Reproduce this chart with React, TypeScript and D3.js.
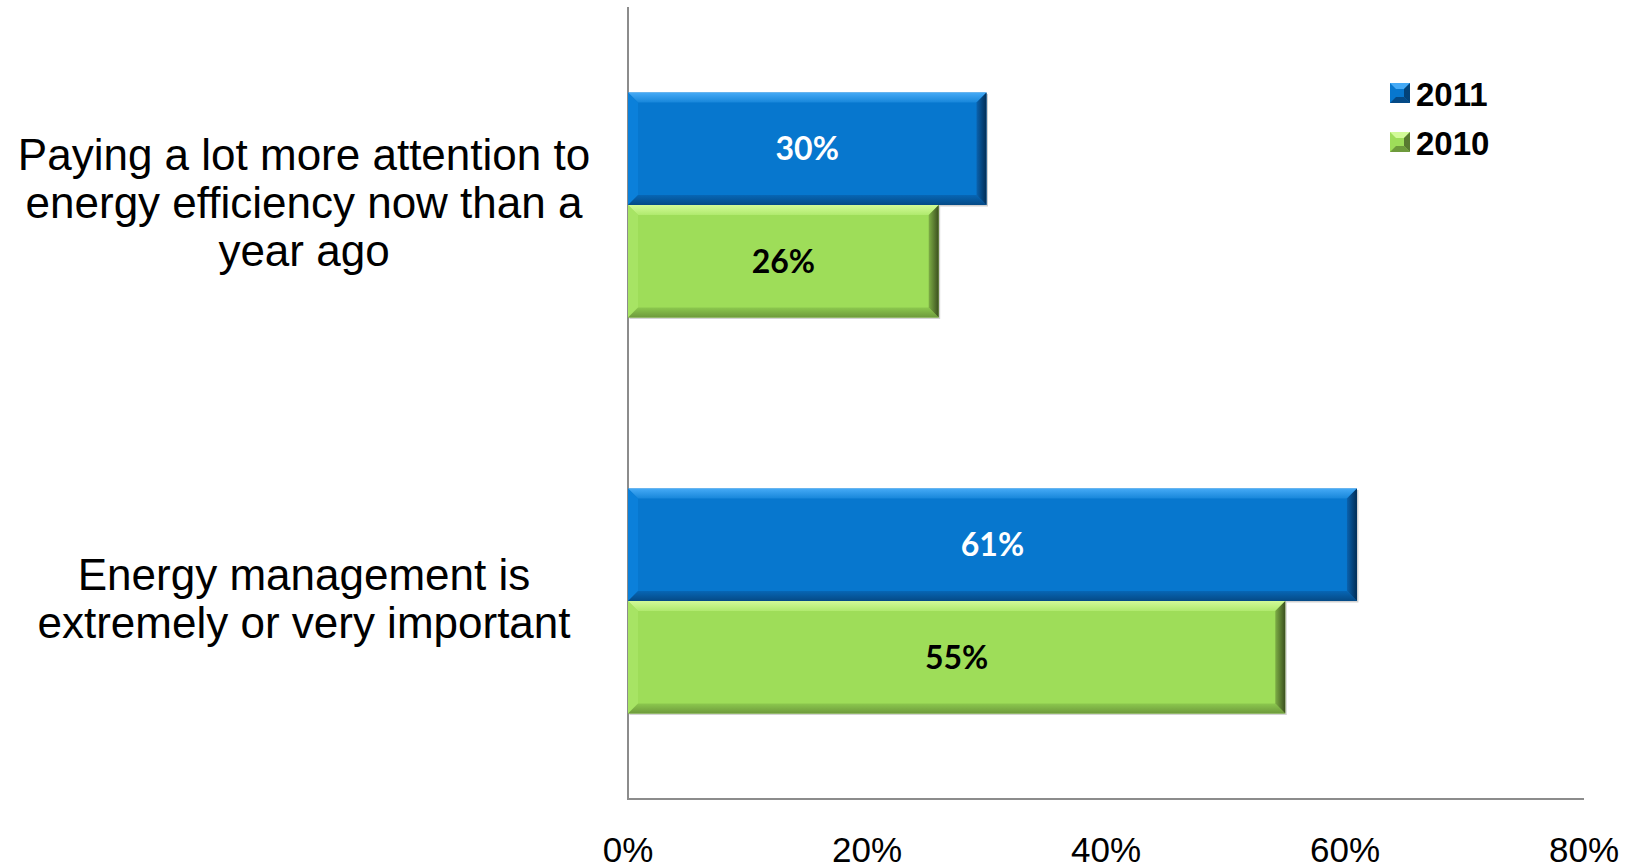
import React from "react";
import * as d3 from "d3";

const categories = [
  ["Paying a lot more attention to", "energy efficiency now than a", "year ago"],
  ["Energy management is", "extremely or very important"],
];
const categoryKeys = ["attention", "importance"];
const seriesNames = ["2011", "2010"];
const values2011 = [0.30, 0.61];
const values2010 = [0.26, 0.55];
const xTicks = [0, 0.2, 0.4, 0.6, 0.8];

const W = 1625;
const H = 868;

const palette: Record<string, any> = {
  "2011": {
    main: "#0777CE",
    topA: "#45AAF6",
    topB: "#1786DA",
    left: "#0B80DA",
    bottomA: "#0766B5",
    bottomB: "#054A86",
    rightA: "#0A62AE",
    rightB: "#022D55",
    label: "#FFFFFF",
  },
  "2010": {
    main: "#9EDD59",
    topA: "#D2FA98",
    topB: "#B0EA6E",
    left: "#A7E464",
    bottomA: "#8CC84E",
    bottomB: "#6E9A3C",
    rightA: "#7DAE45",
    rightB: "#3B4F1F",
    label: "#000000",
  },
};

function BevelBar({ x, y, w, h, s, id }: any) {
  const b = Math.min(10, w / 3, h / 3);
  const c = palette[s];
  const x2 = x + w;
  const y2 = y + h;
  return (
    <g>
      <rect x={x + 1.5} y={y + 1.5} width={w} height={h} fill="#000" opacity={0.18} />
      <rect x={x} y={y} width={w} height={h} fill={c.main} />
      <polygon
        points={`${x},${y} ${x2},${y} ${x2 - b},${y + b} ${x + b},${y + b}`}
        fill={`url(#top-${id})`}
      />
      <polygon
        points={`${x},${y} ${x + b},${y + b} ${x + b},${y2 - b} ${x},${y2}`}
        fill={c.left}
      />
      <polygon
        points={`${x},${y2} ${x + b},${y2 - b} ${x2 - b},${y2 - b} ${x2},${y2}`}
        fill={`url(#bot-${id})`}
      />
      <polygon
        points={`${x2},${y} ${x2},${y2} ${x2 - b},${y2 - b} ${x2 - b},${y + b}`}
        fill={`url(#right-${id})`}
      />
    </g>
  );
}

function Gradients({ s }: any) {
  const c = palette[s];
  return (
    <>
      <linearGradient id={`top-${s}`} x1="0" y1="0" x2="0" y2="1">
        <stop offset="0" stopColor={c.topA} />
        <stop offset="1" stopColor={c.topB} />
      </linearGradient>
      <linearGradient id={`bot-${s}`} x1="0" y1="0" x2="0" y2="1">
        <stop offset="0" stopColor={c.bottomA} />
        <stop offset="1" stopColor={c.bottomB} />
      </linearGradient>
      <linearGradient id={`right-${s}`} x1="0" y1="0" x2="1" y2="0">
        <stop offset="0" stopColor={c.rightA} />
        <stop offset="1" stopColor={c.rightB} />
      </linearGradient>
    </>
  );
}

export default function App() {
  const left = 628;
  const right = 1584;
  const top = 7;
  const bottom = 799;

  const x = d3.scaleLinear().domain([0, 0.8]).range([left, right]);
  const y = d3
    .scaleBand<string>()
    .domain(categoryKeys)
    .range([top, bottom])
    .paddingInner(0.432)
    .paddingOuter(0.216);
  const ySub = d3
    .scaleBand<string>()
    .domain(seriesNames)
    .range([0, y.bandwidth()])
    .padding(0);

  const seriesValues: Record<string, number[]> = {
    "2011": values2011,
    "2010": values2010,
  };

  const fmt = d3.format(".0%");
  const lineH = 48;

  return (
    <svg
      width={W}
      height={H}
      style={{ position: "absolute", left: 0, top: 0, background: "#fff" }}
    >
      <defs>
        {seriesNames.map((s) => (
          <Gradients key={s} s={s} />
        ))}
      </defs>
      <rect x={0} y={0} width={W} height={H} fill="#fff" />

      {/* axes */}
      <line x1={left} x2={left} y1={top} y2={bottom} stroke="#8C8C8C" strokeWidth={2} />
      <line x1={left - 1} x2={right} y1={bottom} y2={bottom} stroke="#8C8C8C" strokeWidth={2} />

      {/* bars */}
      {categoryKeys.map((k, i) =>
        seriesNames.map((s) => {
          const v = seriesValues[s][i];
          const by = (y(k) as number) + (ySub(s) as number);
          const bh = ySub.bandwidth();
          const bx = x(0);
          const bw = x(v) - x(0);
          return (
            <g key={k + s}>
              <BevelBar x={bx} y={by} w={bw} h={bh} s={s} id={s} />
              <text
                x={bx + bw / 2}
                y={by + bh / 2}
                dy="0.36em"
                textAnchor="middle"
                fontFamily="Lato, 'Open Sans', sans-serif"
                fontWeight="bold"
                fontSize={32}
                fill={palette[s].label}
              >
                {fmt(v)}
              </text>
            </g>
          );
        })
      )}

      {/* category labels */}
      {categoryKeys.map((k, i) => {
        const lines = categories[i];
        const cy = (y(k) as number) + y.bandwidth() / 2;
        return (
          <text
            key={k}
            textAnchor="middle"
            fontFamily="'Liberation Sans', Arial, sans-serif"
            fontSize={44}
            fill="#000"
          >
            {lines.map((ln, j) => (
              <tspan key={j} x={304} y={cy + (j - (lines.length - 1) / 2) * lineH + 13}>
                {ln}
              </tspan>
            ))}
          </text>
        );
      })}

      {/* x tick labels */}
      {xTicks.map((t) => (
        <text
          key={t}
          x={x(t)}
          y={862}
          textAnchor="middle"
          fontFamily="'Liberation Sans', Arial, sans-serif"
          fontSize={35}
          fill="#000"
        >
          {fmt(t)}
        </text>
      ))}

      {/* legend */}
      {seriesNames.map((s, i) => {
        const ly = 83 + i * 49;
        const c = palette[s];
        return (
          <g key={s}>
            <rect x={1390} y={ly} width={20} height={20} fill={c.main} />
            <polygon
              points={`1390,${ly} 1410,${ly} 1404,${ly + 6} 1396,${ly + 6}`}
              fill={c.topA}
            />
            <polygon
              points={`1410,${ly} 1410,${ly + 20} 1404,${ly + 14} 1404,${ly + 6}`}
              fill={c.rightB}
              opacity={0.7}
            />
            <polygon
              points={`1390,${ly + 20} 1396,${ly + 14} 1404,${ly + 14} 1410,${ly + 20}`}
              fill={c.bottomB}
            />
            <text
              x={1416}
              y={ly + 23}
              fontFamily="'Liberation Sans', Arial, sans-serif"
              fontWeight="bold"
              fontSize={33}
              fill="#000"
            >
              {s}
            </text>
          </g>
        );
      })}
    </svg>
  );
}
